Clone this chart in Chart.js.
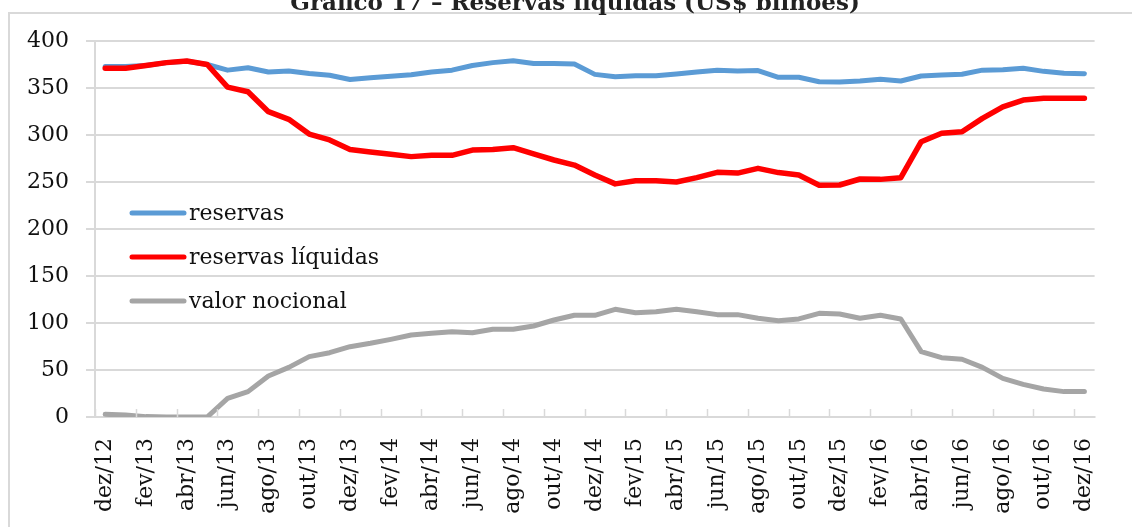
<!DOCTYPE html>
<html>
<head>
<meta charset="utf-8">
<script src="https://cdn.jsdelivr.net/npm/chart.js@4"></script>
<style>
    html, body { margin: 0; padding: 0; background: #fff; overflow: hidden; }
    #title { position: absolute; left: 0; width: 1150px; top: -12px; text-align: center; font: bold 23px "DejaVu Serif"; color: #222; white-space: nowrap; z-index: 2; }
    #chart { position: absolute; left: 0; top: 0; z-index: 1; }
</style>
</head>
<body>
<div id="title">Gráfico 17 – Reservas líquidas (US$ bilhões)</div>
<canvas id="chart" width="1132" height="560"></canvas>
<script>
const months = [
    "dez/12",
    "jan/13", "fev/13", "mar/13", "abr/13", "mai/13", "jun/13", "jul/13", "ago/13", "set/13", "out/13", "nov/13", "dez/13",
    "jan/14", "fev/14", "mar/14", "abr/14", "mai/14", "jun/14", "jul/14", "ago/14", "set/14", "out/14", "nov/14", "dez/14",
    "jan/15", "fev/15", "mar/15", "abr/15", "mai/15", "jun/15", "jul/15", "ago/15", "set/15", "out/15", "nov/15", "dez/15",
    "jan/16", "fev/16", "mar/16", "abr/16", "mai/16", "jun/16", "jul/16", "ago/16", "set/16", "out/16", "nov/16", "dez/16"
];

const reservas = [
    373, 373, 374, 377, 378.5, 375, 369, 371.5, 367, 368, 365.5, 363.5, 359,
    361, 362.5, 364, 367, 369, 374, 377, 379, 376, 376, 375.5, 364.5,
    362, 363, 363, 365, 367, 368.8, 368, 368.5, 361.4, 361.4, 356.7, 356.4,
    357.4, 359.2, 357.4, 362.8, 363.8, 364.6, 369, 369.5, 371, 367.7, 365.6, 365.2
];

const reservasLiquidas = [
    371, 371, 374, 377, 378.7, 375, 351, 346, 324.8, 316.7, 301, 294.7, 284.5,
    282, 279.5, 277, 278.4, 278.4, 284, 284.5, 286.5, 279.8, 273.4, 268, 257.4,
    248, 251.4, 251.4, 250, 254.6, 260.3, 259.5, 264.5, 260, 257.4, 246.6, 246.8,
    253.2, 252.8, 254.6, 292.9, 301.8, 303.5, 317.7, 330, 337.2, 339, 339, 339
];

const valorNocional = [
    2.8, 2.1, 0.4, 0, 0, 0, 19.8, 27, 43.6, 52.8, 64.2, 68.4, 74.8,
    78.4, 82.6, 87.2, 89, 90.8, 89.7, 93.3, 93.3, 96.8, 103.2, 108.2, 108.2,
    114.6, 111, 112, 114.6, 112, 108.9, 108.9, 105, 102.5, 104.3, 110.3, 109.6,
    105, 108.2, 104.3, 69.5, 63.1, 61.4, 52.8, 41.1, 34.7, 29.8, 27, 27
];

const gridColor = "#d9d9d9";
const serif = "DejaVu Serif";

// outer frame of the chart object (left and top edges are the only ones in view)
const frame = {
    id: "frame",
    afterDraw(chart) {
        const ctx = chart.ctx;
        ctx.save();
        ctx.strokeStyle = gridColor;
        ctx.lineWidth = 2;
        ctx.beginPath();
        ctx.moveTo(9, chart.height);
        ctx.lineTo(9, 13);
        ctx.lineTo(chart.width, 13);
        ctx.stroke();
        ctx.restore();
    }
};

// small tick marks pointing up from the x axis, every two months
const innerTicks = {
    id: "innerTicks",
    afterDraw(chart) {
        const xs = chart.scales.x;
        const ctx = chart.ctx;
        const half = (xs.getPixelForValue(1) - xs.getPixelForValue(0)) / 2;
        ctx.save();
        ctx.strokeStyle = gridColor;
        ctx.lineWidth = 1.5;
        ctx.beginPath();
        for (let i = 0; i < months.length; i += 2) {
            const x = Math.round(xs.getPixelForValue(i) - half) + 0.5;
            ctx.moveTo(x, chart.chartArea.bottom - 8);
            ctx.lineTo(x, chart.chartArea.bottom);
        }
        ctx.stroke();
        ctx.restore();
    }
};

// legend drawn inside the plot, stacked on the left
const insideLegend = {
    id: "insideLegend",
    afterDraw(chart) {
        const ctx = chart.ctx;
        const left = chart.chartArea.left + 35;
        ctx.save();
        ctx.font = "22px " + serif;
        ctx.textBaseline = "middle";
        ctx.lineCap = "round";
        [0, 1, 2].forEach(function (d, k) {
            const ds = chart.data.datasets[d];
            const y = 213 + k * 44;
            ctx.strokeStyle = ds.borderColor;
            ctx.lineWidth = 5;
            ctx.beginPath();
            ctx.moveTo(left + 2, y);
            ctx.lineTo(left + 54, y);
            ctx.stroke();
            ctx.fillStyle = "#111";
            ctx.fillText(ds.label, left + 59, y + 1);
        });
        ctx.restore();
    }
};

new Chart(document.getElementById("chart"), {
    type: "line",
    data: {
        labels: months,
        datasets: [{
            label: "reservas",
            data: reservas,
            borderColor: "#5b9bd5",
            borderWidth: 5,
            order: 1
        }, {
            label: "reservas líquidas",
            data: reservasLiquidas,
            borderColor: "#ff0000",
            borderWidth: 5.5,
            order: 0
        }, {
            label: "valor nocional",
            data: valorNocional,
            borderColor: "#a5a5a5",
            borderWidth: 5,
            order: 2
        }]
    },
    options: {
        responsive: false,
        animation: false,
        devicePixelRatio: 1,
        layout: {
            padding: { left: 0, top: 41, right: 19, bottom: 0 }
        },
        elements: {
            point: { radius: 0 },
            line: { tension: 0, borderCapStyle: "round", borderJoinStyle: "round" }
        },
        plugins: {
            legend: { display: false },
            tooltip: { enabled: false }
        },
        scales: {
            x: {
                offset: true,
                afterFit: function (scale) { scale.height = 143; },
                grid: { display: true, drawOnChartArea: false, drawTicks: false, color: gridColor, lineWidth: 1.5 },
                border: { display: true, color: gridColor, width: 2 },
                ticks: {
                    autoSkip: false,
                    minRotation: 90,
                    maxRotation: 90,
                    padding: 21,
                    color: "#111",
                    font: { family: serif, size: 22 },
                    callback: function (v, i) { return i % 2 === 0 ? months[i] : ""; }
                }
            },
            y: {
                min: 0,
                max: 400,
                afterFit: function (scale) { scale.width = 95; },
                grid: { color: gridColor, lineWidth: 2, tickLength: 9 },
                border: { display: true, color: gridColor, width: 2 },
                ticks: {
                    stepSize: 50,
                    padding: 17,
                    color: "#111",
                    font: { family: serif, size: 22 }
                }
            }
        }
    },
    plugins: [frame, innerTicks, insideLegend]
});
</script>
</body>
</html>
